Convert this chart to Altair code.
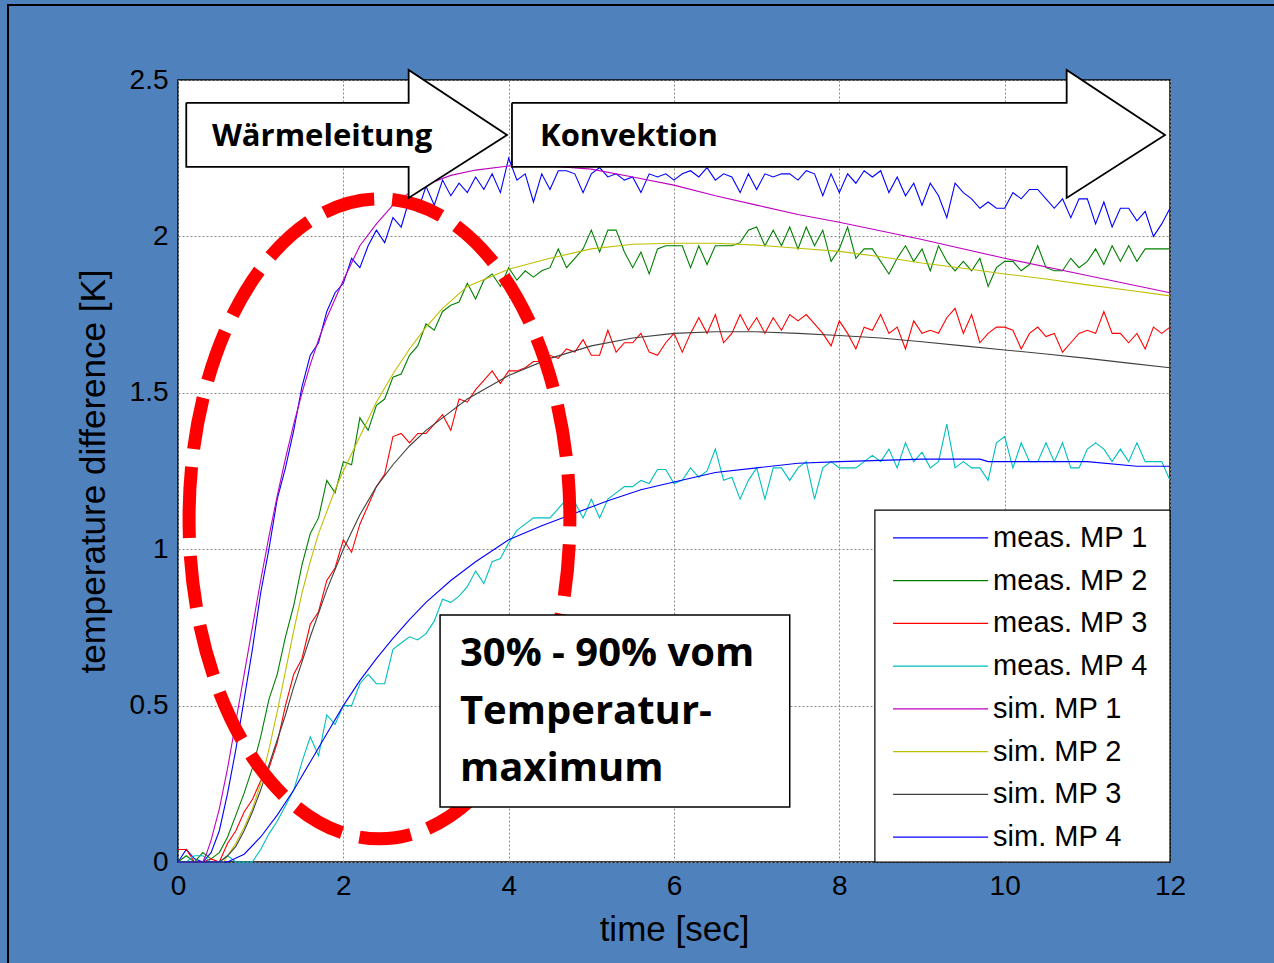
import altair as alt
import pandas as pd

# ---------------- data ----------------
SERIES = ["meas. MP 1", "meas. MP 2", "meas. MP 3", "meas. MP 4",
          "sim. MP 1", "sim. MP 2", "sim. MP 3", "sim. MP 4"]
COLORS = ["#0000FF", "#008000", "#FF0000", "#00BFBF",
          "#BF00BF", "#BFBF00", "#404040", "#0000FF"]

X_TICKS = [0, 2, 4, 6, 8, 10, 12]
Y_TICKS = [0, 0.5, 1, 1.5, 2, 2.5]

# measurement time grid (0.1 s sampling)
T_MEAS = [i / 10 for i in range(121)]

MEAS_MP1 = [0.0, 0.04, 0.01, 0.0, 0.03, 0.1, 0.22, 0.36, 0.52, 0.68,
            0.86, 1.0, 1.16, 1.26, 1.38, 1.52, 1.62, 1.66, 1.76, 1.82,
            1.85, 1.93, 1.9, 1.97, 2.02, 1.98, 2.06, 2.03, 2.12, 2.08,
            2.16, 2.1, 2.18, 2.13, 2.17, 2.14, 2.19, 2.15, 2.2, 2.14,
            2.25, 2.18, 2.2, 2.11, 2.2, 2.15, 2.21, 2.21, 2.2, 2.14,
            2.2, 2.22, 2.19, 2.2, 2.18, 2.19, 2.14, 2.2, 2.19, 2.2,
            2.18, 2.2, 2.21, 2.19, 2.22, 2.18, 2.2, 2.19, 2.14, 2.2,
            2.15, 2.2, 2.19, 2.2, 2.2, 2.18, 2.21, 2.2, 2.13, 2.2,
            2.14, 2.2, 2.17, 2.21, 2.19, 2.21, 2.14, 2.19, 2.13, 2.17,
            2.1, 2.17, 2.13, 2.06, 2.17, 2.14, 2.12, 2.09, 2.11, 2.09,
            2.09, 2.14, 2.12, 2.15, 2.15, 2.12, 2.09, 2.12, 2.06, 2.12,
            2.12, 2.04, 2.11, 2.03, 2.09, 2.09, 2.05, 2.08, 2.0, 2.04,
            2.09]

MEAS_MP2 = [0.0, 0.02, 0.0, 0.03, 0.01, 0.03, 0.08, 0.15, 0.22, 0.3,
            0.4, 0.52, 0.6, 0.72, 0.82, 0.95, 1.05, 1.1, 1.22, 1.18,
            1.28, 1.27, 1.42, 1.38, 1.46, 1.48, 1.55, 1.56, 1.62, 1.65,
            1.72, 1.7, 1.76, 1.78, 1.79, 1.85, 1.8, 1.86, 1.88, 1.84,
            1.9, 1.86, 1.89, 1.87, 1.89, 1.9, 1.96, 1.9, 1.93, 1.96,
            2.02, 1.95, 2.02, 2.02, 1.95, 1.9, 1.95, 1.88, 1.96, 1.97,
            1.97, 1.97, 1.9, 1.97, 1.91, 1.97, 1.97, 1.97, 1.98, 2.02,
            2.03, 1.97, 2.02, 1.97, 2.03, 1.96, 2.03, 1.97, 2.02, 1.92,
            1.96, 2.03, 1.93, 1.96, 1.96, 1.92, 1.88, 1.93, 1.97, 1.92,
            1.96, 1.89, 1.97, 1.92, 1.89, 1.92, 1.89, 1.93, 1.84, 1.9,
            1.92, 1.92, 1.89, 1.91, 1.97, 1.9, 1.89, 1.89, 1.93, 1.9,
            1.92, 1.96, 1.91, 1.97, 1.92, 1.97, 1.92, 1.96, 1.96, 1.96,
            1.96]

MEAS_MP3 = [0.04, 0.04, 0.0, 0.0, 0.01, 0.0, 0.06, 0.1, 0.16, 0.2,
            0.26, 0.3, 0.38, 0.5, 0.6, 0.65, 0.76, 0.8, 0.9, 0.94,
            1.03, 0.99, 1.08, 1.14, 1.2, 1.24, 1.36, 1.37, 1.34, 1.37,
            1.37, 1.4, 1.43, 1.38, 1.48, 1.47, 1.51, 1.54, 1.57, 1.53,
            1.57, 1.57, 1.58, 1.6, 1.6, 1.62, 1.61, 1.64, 1.63, 1.67,
            1.62, 1.62, 1.7, 1.63, 1.66, 1.66, 1.69, 1.63, 1.62, 1.66,
            1.69, 1.63, 1.69, 1.74, 1.69, 1.75, 1.66, 1.69, 1.75, 1.7,
            1.74, 1.69, 1.74, 1.7, 1.75, 1.73, 1.75, 1.72, 1.69, 1.65,
            1.73, 1.69, 1.64, 1.71, 1.7, 1.75, 1.69, 1.71, 1.64, 1.73,
            1.69, 1.7, 1.69, 1.74, 1.77, 1.69, 1.75, 1.66, 1.69, 1.71,
            1.71, 1.7, 1.64, 1.69, 1.71, 1.68, 1.69, 1.63, 1.66, 1.69,
            1.7, 1.69, 1.76, 1.69, 1.69, 1.66, 1.69, 1.64, 1.71, 1.69,
            1.71]

MEAS_MP4 = [0.0, 0.0, 0.02, 0.02, 0.0, 0.0, 0.02, 0.0, 0.0, 0.0,
            0.04, 0.09, 0.13, 0.18, 0.23, 0.32, 0.4, 0.34, 0.47, 0.44,
            0.5, 0.5, 0.57, 0.6, 0.57, 0.57, 0.68, 0.7, 0.72, 0.71,
            0.73, 0.77, 0.84, 0.83, 0.85, 0.88, 0.93, 0.89, 0.96, 0.97,
            1.02, 1.06, 1.08, 1.1, 1.1, 1.1, 1.13, 1.16, 1.15, 1.1,
            1.16, 1.1, 1.16, 1.18, 1.2, 1.2, 1.22, 1.21, 1.255, 1.255,
            1.21, 1.22, 1.26, 1.23, 1.25, 1.32, 1.22, 1.23, 1.16, 1.22,
            1.26, 1.16, 1.26, 1.26, 1.22, 1.26, 1.28, 1.16, 1.26, 1.28,
            1.26, 1.26, 1.26, 1.28, 1.3, 1.28, 1.32, 1.26, 1.34, 1.28,
            1.31, 1.26, 1.28, 1.4, 1.26, 1.28, 1.26, 1.26, 1.22, 1.34,
            1.36, 1.26, 1.34, 1.28, 1.28, 1.34, 1.28, 1.34, 1.26, 1.26,
            1.32, 1.34, 1.32, 1.28, 1.32, 1.28, 1.34, 1.28, 1.28, 1.28,
            1.22]

SIM_MP1_T = [0, 0.3, 0.35, 0.4, 0.5, 0.6, 0.7, 0.8, 0.9, 1.0, 1.1, 1.2, 1.3, 1.4,
             1.5, 1.6, 1.7, 1.8, 1.9, 2.0, 2.2, 2.4, 2.6, 2.8, 3.0, 3.3, 3.6, 4.0,
             4.5, 5.0, 5.5, 6.0, 6.5, 7.0, 7.5, 8.0, 9.0, 10.0, 11.0, 12.0]
SIM_MP1 = [0, 0, 0.03, 0.07, 0.17, 0.3, 0.45, 0.6, 0.75, 0.9, 1.04, 1.17, 1.29, 1.4,
           1.5, 1.59, 1.67, 1.74, 1.8, 1.86, 1.97, 2.04, 2.1, 2.14, 2.165, 2.195, 2.212, 2.225,
           2.225, 2.215, 2.19, 2.164, 2.13, 2.1, 2.07, 2.045, 1.99, 1.93, 1.875, 1.82]

SIM_MP2_T = [0, 0.55, 0.6, 0.7, 0.8, 0.9, 1.0, 1.1, 1.2, 1.3, 1.4, 1.5, 1.6, 1.7,
             1.8, 1.9, 2.0, 2.2, 2.4, 2.6, 2.8, 3.0, 3.2, 3.5, 4.0, 4.5, 5.0, 5.5,
             6.0, 6.5, 7.0, 7.5, 8.0, 8.5, 9.0, 9.5, 10.0, 10.5, 11.0, 11.5, 12.0]
SIM_MP2 = [0, 0, 0.02, 0.06, 0.11, 0.17, 0.25, 0.36, 0.48, 0.61, 0.74, 0.86, 0.96, 1.05,
           1.12, 1.19, 1.25, 1.36, 1.47, 1.56, 1.64, 1.71, 1.77, 1.84, 1.895, 1.93, 1.96, 1.975,
           1.978, 1.978, 1.972, 1.962, 1.952, 1.935, 1.915, 1.898, 1.88, 1.864, 1.845, 1.828, 1.81]

SIM_MP3_T = [0, 0.5, 0.6, 0.7, 0.8, 0.9, 1.0, 1.1, 1.2, 1.3, 1.4, 1.5, 1.6, 1.8,
             2.0, 2.2, 2.4, 2.6, 2.8, 3.0, 3.2, 3.5, 4.0, 4.5, 5.0, 5.5, 6.0, 6.5,
             7.0, 7.5, 8.0, 8.5, 9.0, 9.5, 10.0, 10.5, 11.0, 11.5, 12.0]
SIM_MP3 = [0, 0, 0.02, 0.05, 0.1, 0.16, 0.23, 0.31, 0.39, 0.47, 0.56, 0.64, 0.72, 0.87,
           1.0, 1.11, 1.2, 1.27, 1.33, 1.38, 1.42, 1.48, 1.555, 1.61, 1.65, 1.675, 1.69, 1.695,
           1.695, 1.69, 1.683, 1.675, 1.663, 1.65, 1.637, 1.624, 1.61, 1.595, 1.58]

SIM_MP4_T = [0, 0.6, 0.8, 1.0, 1.2, 1.4, 1.6, 1.8, 2.0, 2.2, 2.4, 2.6, 2.8, 3.0,
             3.3, 3.6, 4.0, 4.4, 4.8, 5.2, 5.6, 6.0, 6.5, 7.0, 7.5, 8.0,
             9.0, 9.7, 9.8, 11.0, 11.6, 12.0]
SIM_MP4 = [0, 0, 0.025, 0.08, 0.15, 0.23, 0.32, 0.41, 0.5, 0.58, 0.65, 0.715, 0.775, 0.83,
           0.9, 0.96, 1.03, 1.075, 1.115, 1.155, 1.19, 1.215, 1.245, 1.26, 1.275, 1.28,
           1.288, 1.288, 1.28, 1.28, 1.265, 1.265]

# annotation texts
ARROW_LABELS = ["Wärmeleitung", "Konvektion"]
BOX_LINES = ["30% - 90% vom", "Temperatur-", "maximum"]

# ---------------- build tables ----------------
rows = []
for name, vals in zip(SERIES[:4], [MEAS_MP1, MEAS_MP2, MEAS_MP3, MEAS_MP4]):
    for t, v in zip(T_MEAS, vals):
        rows.append({"series": name, "t": t, "v": v})
for name, ts, vals in zip(SERIES[4:], [SIM_MP1_T, SIM_MP2_T, SIM_MP3_T, SIM_MP4_T],
                          [SIM_MP1, SIM_MP2, SIM_MP3, SIM_MP4]):
    for t, v in zip(ts, vals):
        rows.append({"series": name, "t": t, "v": v})
df = pd.DataFrame(rows)

FONT = "Liberation Sans"
xs = alt.Scale(domain=[0, 12], nice=False, zero=False)
ys = alt.Scale(domain=[0, 2.5], nice=False, zero=False)
cs = alt.Scale(domain=SERIES, range=COLORS)

xaxis = alt.Axis(values=X_TICKS, format="~g", title="time [sec]", grid=True,
                 gridColor="#8a8a8a", gridDash=[2, 2], gridWidth=1, domain=False, ticks=False,
                 labelFont=FONT, labelFontSize=28, labelColor="black", labelPadding=10,
                 labelFlush=False,
                 titleFont=FONT, titleFontSize=35, titleFontWeight="normal", titleColor="black",
                 titlePadding=12)
yaxis = alt.Axis(values=Y_TICKS, format="~g", title="temperature difference [K]", grid=True,
                 gridColor="#8a8a8a", gridDash=[2, 2], gridWidth=1, domain=False, ticks=False,
                 labelFont=FONT, labelFontSize=28, labelColor="black", labelPadding=10,
                 labelFlush=False,
                 titleFont=FONT, titleFontSize=35, titleFontWeight="normal", titleColor="black",
                 titlePadding=18)


def X(f):
    return alt.X(f, type="quantitative", scale=xs, axis=xaxis, title="time [sec]")


def Y(f):
    return alt.Y(f, type="quantitative", scale=ys, axis=yaxis, title="temperature difference [K]")


lines = alt.Chart(df).mark_line(strokeWidth=1.1).encode(
    x=X("t"), y=Y("v"),
    color=alt.Color("series:N", scale=cs, legend=None),
    detail="series:N",
)

# red dashed ellipse (one point with an elliptical outline)
ell = alt.Chart(pd.DataFrame({"t": [2.437], "v": [1.097]})).mark_point(
    shape="M -0.595 0 A 0.595 1 0 1 1 0.595 0 A 0.595 1 0 1 1 -0.595 0 Z",
    size=409600, filled=False, stroke="#FF0000", strokeWidth=13, strokeDash=[52, 18],
    opacity=1,
).encode(x=X("t"), y=Y("v"))

# text box
box_df = pd.DataFrame({"x0": [3.17], "x1": [7.4], "y0": [0.176], "y1": [0.79]})
box = alt.Chart(box_df).mark_rect(fill="white", stroke="black", strokeWidth=1.5).encode(
    x=X("x0"), x2="x1", y=Y("y0"), y2="y1")
box_txt_df = pd.DataFrame({"txt": BOX_LINES, "i": [0, 1, 2]})
box_txt = alt.Chart(box_txt_df).transform_calculate(
    tx="3.41", ty="0.665 - datum.i * 0.184"
).mark_text(align="left", baseline="middle", font="Open Sans", fontWeight="bold",
            fontSize=40, color="black").encode(x=X("tx"), y=Y("ty"), text="txt:N")

# arrows: body rect + triangular head + outline
arrow_body = pd.DataFrame({"a": [0, 1], "x0": [0.1, 4.04], "x1": [2.79, 10.75],
                           "y0": [2.222, 2.222], "y1": [2.427, 2.427]})
bodies = alt.Chart(arrow_body).mark_rect(fill="white", strokeWidth=0).encode(
    x=X("x0"), x2="x1", y=Y("y0"), y2="y1")
arrow_head = pd.DataFrame({"a": [0, 0, 1, 1], "hx": [2.79, 3.98, 10.75, 11.94],
                           "hy": [2.532, 2.324, 2.532, 2.324], "hy2": [2.123, 2.324, 2.123, 2.324]})
heads = alt.Chart(arrow_head).mark_area(fill="white", opacity=1).encode(
    x=X("hx"), y=Y("hy"), y2="hy2", detail="a:N")
outline_pts = []
for a, (x0, x1, tip) in enumerate([(0.1, 2.79, 3.98), (4.04, 10.75, 11.94)]):
    pts = [(x0, 2.427), (x1, 2.427), (x1, 2.532), (tip, 2.324), (x1, 2.123),
           (x1, 2.222), (x0, 2.222), (x0, 2.427)]
    for k, (px, py) in enumerate(pts):
        outline_pts.append({"a": a, "k": k, "ox": px, "oy": py})
outlines = alt.Chart(pd.DataFrame(outline_pts)).mark_line(
    color="black", strokeWidth=1.8, strokeJoin="miter").encode(
    x=X("ox"), y=Y("oy"), detail="a:N", order="k:Q")
arrow_txt = alt.Chart(pd.DataFrame({"txt": ARROW_LABELS, "tx": [0.41, 4.38], "ty": [2.317, 2.317]})
                      ).mark_text(align="left", baseline="middle", font="Open Sans",
                                  fontWeight="bold", fontSize=31, color="black").encode(
    x=X("tx"), y=Y("ty"), text="txt:N")

# legend (manual, MATLAB style)
leg_box = alt.Chart(pd.DataFrame({"x0": [8.43], "x1": [12.0], "y0": [0.0], "y1": [1.125]})
                    ).mark_rect(fill="white", stroke="black", strokeWidth=1.2).encode(
    x=X("x0"), x2="x1", y=Y("y0"), y2="y1")
leg_df = pd.DataFrame({"series": SERIES, "row": list(range(8))})
leg_base = alt.Chart(leg_df).transform_calculate(
    lx0="8.65", lx1="9.8", tx="9.86", ly="1.036 - datum.row * 0.1366")
leg_lines = leg_base.mark_rule(strokeWidth=1.2).encode(
    x=X("lx0"), x2="lx1", y=Y("ly"), color=alt.Color("series:N", scale=cs, legend=None))
leg_txt = leg_base.mark_text(align="left", baseline="middle", font=FONT, fontSize=29,
                             color="black").encode(x=X("tx"), y=Y("ly"), text="series:N")

# outer slide frame
frame = alt.Chart(pd.DataFrame({"k": [0]})).mark_rect(
    fillOpacity=0, stroke="black", strokeWidth=2).encode(
    x=alt.value(-170), x2=alt.value(1150), y=alt.value(-75), y2=alt.value(950))

chart = alt.layer(
    lines, ell, box, box_txt, bodies, heads, outlines, arrow_txt,
    leg_box, leg_lines, leg_txt, frame
).properties(
    width=992, height=782,
    padding={"left": 178, "top": 80, "right": 104, "bottom": 101},
    autosize="none",
    background="#4F81BD",
).configure_view(fill="white", stroke="black", strokeWidth=1.5)

chart.save("out.html", embed_options={"renderer": "svg", "actions": False})
